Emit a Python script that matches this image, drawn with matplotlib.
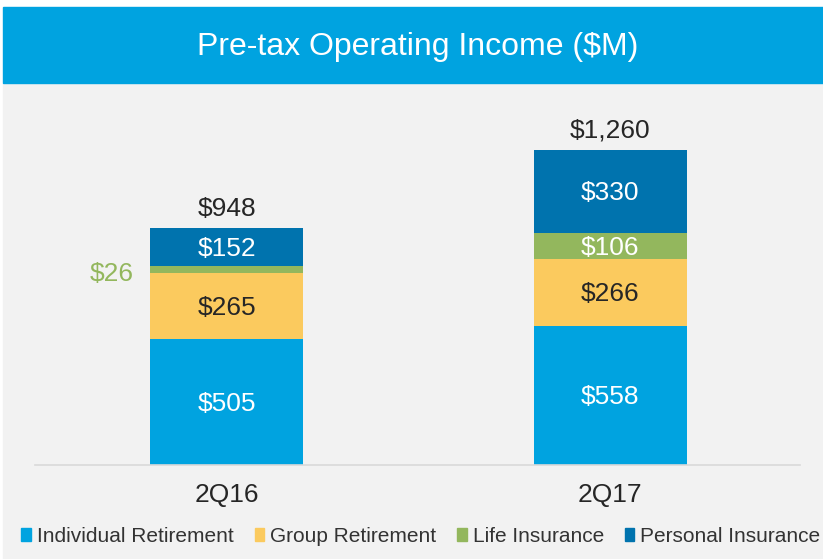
import matplotlib.pyplot as plt
from matplotlib.patches import Rectangle

plt.rcParams['font.family'] = ['Liberation Sans', 'DejaVu Sans']

# data
quarters = ['2Q16', '2Q17']
segments = ['Individual Retirement', 'Group Retirement', 'Life Insurance', 'Personal Insurance']
individual = [505, 558]
group = [265, 266]
life = [26, 106]
personal = [152, 330]
totals = ['$948', '$1,260']

colors = ['#00A3E0', '#FBCA5E', '#93B75D', '#0073AE']
label_colors = ['white', '#262626', 'white', 'white']

W, H = 823, 559
fig = plt.figure(figsize=(W / 100, H / 100), dpi=100)

# background panels
fig.add_artist(Rectangle((3 / W, 0), 1, 1 - 83 / H, transform=fig.transFigure,
                         color='#F2F2F2', zorder=0))
fig.add_artist(Rectangle((3 / W, 1 - 83 / H), 1, 76 / H, transform=fig.transFigure,
                         color='#00A3E0', zorder=0))
fig.text(418 / W, 1 - 47 / H, 'Pre-tax Operating Income ($M)', color='white',
         fontsize=23, ha='center', va='center')

ax = fig.add_axes([35 / W, 1 - 465 / H, 765 / W, 365 / H])
ax.set_facecolor('none')
ax.set_xlim(-0.499, 1.494)
ax.set_ylim(0, 1460)

x = [0, 1]
width = 0.398
series = [individual, group, life, personal]
bottom = [0, 0]
for s, vals in enumerate(series):
    ax.bar(x, vals, width, bottom=bottom, color=colors[s], label=segments[s], zorder=2)
    for i in range(2):
        mid = bottom[i] + vals[i] / 2 - 8
        if s == 2 and i == 0:
            ax.text(x[i] - width / 2 - 0.1, mid - 12, f'${vals[i]}', color='#93B75D',
                    fontsize=19, ha='center', va='center')
        else:
            ax.text(x[i], mid, f'${vals[i]}', color=label_colors[s],
                    fontsize=19, ha='center', va='center')
    bottom = [bottom[i] + vals[i] for i in range(2)]

for i in range(2):
    ax.text(x[i], bottom[i] + 78, totals[i], color='#262626', fontsize=19,
            ha='center', va='center')

for sp in ['top', 'right', 'left']:
    ax.spines[sp].set_visible(False)
ax.spines['bottom'].set_color('#D9D9D9')
ax.spines['bottom'].set_linewidth(1.2)
ax.set_yticks([])
ax.set_xticks(x)
ax.set_xticklabels(quarters, fontsize=19, color='#262626')
ax.tick_params(axis='x', length=0, pad=13)

handles = [Rectangle((0, 0), 1, 1, color=c) for c in colors]
fig.legend(handles, segments, loc='center', bbox_to_anchor=(421 / W, 1 - 536 / H),
           ncol=4, frameon=False, fontsize=15, labelcolor='#333333',
           handlelength=0.45, handleheight=0.6, handletextpad=0.3,
           columnspacing=1.0, borderaxespad=0)

fig.savefig('out.png', dpi=100)
